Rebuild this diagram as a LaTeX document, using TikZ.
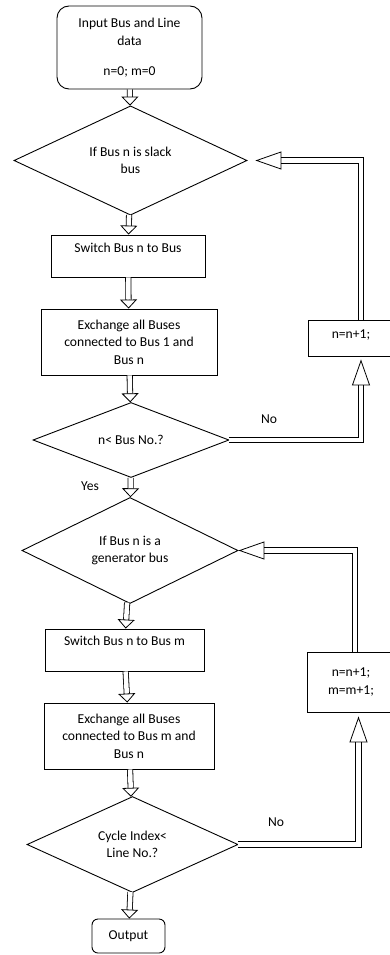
\documentclass[tikz,border=0pt]{standalone}
\usepackage{fontspec}
\setmainfont{Carlito}
\usetikzlibrary{arrows.meta, shapes.geometric, positioning}
\tikzset{
  base/.style = {draw, line width=0.9pt, align=center, inner sep=2pt,
    font=\fontsize{13.6}{17.5}\selectfont},
  roundbox/.style = {base, rectangle, rounded corners=12pt},
  procbox/.style = {base, rectangle},
  decision/.style = {base, diamond, inner sep=0pt},
  flow/.style = {double, double distance=4.5pt, line width=0.8pt,
    -{Triangle[open, length=9pt, width=17pt]}},
  back/.style = {double, double distance=4.5pt, line width=0.8pt,
    -{Triangle[open, length=26pt, width=18pt]}},
  lbl/.style = {font=\fontsize{13.6}{17.5}\selectfont}
}

\begin{document}
\begin{tikzpicture}[x=1pt, y=-1pt]

  \useasboundingbox (0,0) rectangle (390,955);

  %% Main column

  % Start
  \node[roundbox, minimum width=145pt, minimum height=83pt] (start) at (129.5,47.5)
    {Input Bus and Line\\ data\\[12.5pt] n=0; m=0};

  % Slack bus check
  \node[decision, minimum width=233pt, minimum height=85pt] (slack) at (130.5,160.5)
    {If Bus n is slack\\ bus};

  % Switch to bus 1
  \node[procbox, minimum width=154pt, minimum height=42pt, text depth=17pt] (swone) at (128,256)
    {Switch Bus n to Bus};

  % Exchange with bus 1
  \node[procbox, minimum width=176pt, minimum height=66pt] (exone) at (129,342)
    {Exchange all Buses\\ connected to Bus 1 and\\ Bus n};

  % Bus counter check
  \node[decision, minimum width=196pt, minimum height=66pt] (busno) at (131,440)
    {n< Bus No.?};

  % Generator bus check
  \node[decision, minimum width=216pt, minimum height=93pt] (gen) at (130,550.5)
    {If Bus n is a\\ generator bus};

  % Switch to bus m
  \node[procbox, minimum width=159pt, minimum height=42pt, text depth=18pt] (swm) at (124.5,650)
    {Switch Bus n to Bus m};

  % Exchange with bus m
  \node[procbox, minimum width=170pt, minimum height=66pt] (exm) at (129,736)
    {Exchange all Buses\\ connected to Bus m and\\ Bus n};

  % Line counter check
  \node[decision, minimum width=211pt, minimum height=85pt] (lineno) at (132.5,844.5)
    {Cycle Index<\\ Line No.?};

  % Output
  \node[roundbox, rounded corners=6pt, minimum width=73pt, minimum height=34pt] (out) at (128.5,936)
    {Output};

  %% Counters on the right

  \node[procbox, minimum width=86pt, minimum height=36pt, text depth=7pt] (incn) at (351,338)
    {n=n+1;};
  \node[procbox, minimum width=88pt, minimum height=60pt] (incnm) at (351,682)
    {n=n+1;\\[1pt] m=m+1;};

  %% Arrows

  \draw[flow] (start) -- (slack);
  \draw[flow] (slack) -- (swone);
  \draw[flow] (swone) -- (exone);
  \draw[flow] (exone) -- (busno);
  \draw[flow] (busno) -- (gen);
  \draw[flow] (gen) -- (swm);
  \draw[flow] (swm) -- (exm);
  \draw[flow] (exm) -- (lineno);
  \draw[flow] (lineno) -- (out);

  % Loop back, bus counter
  \draw[back, shorten >=3pt] (busno.east) -| ([xshift=10pt]incn.south);
  \draw[back, shorten >=8pt] ([xshift=10pt]incn.north) |- (slack.east);

  % Loop back, line counter
  \draw[back, shorten >=4pt] (lineno.east) -| ([xshift=7.5pt]incnm.south);
  \draw[back] ([xshift=4pt]incnm.north) |- (gen.east);

  % Branch labels
  \node[lbl] (no1) at (269,419) {No};
  \node[lbl] (yes1) at (90,486) {Yes};
  \node[lbl] (no2) at (276,822) {No};

\end{tikzpicture}
\end{document}
